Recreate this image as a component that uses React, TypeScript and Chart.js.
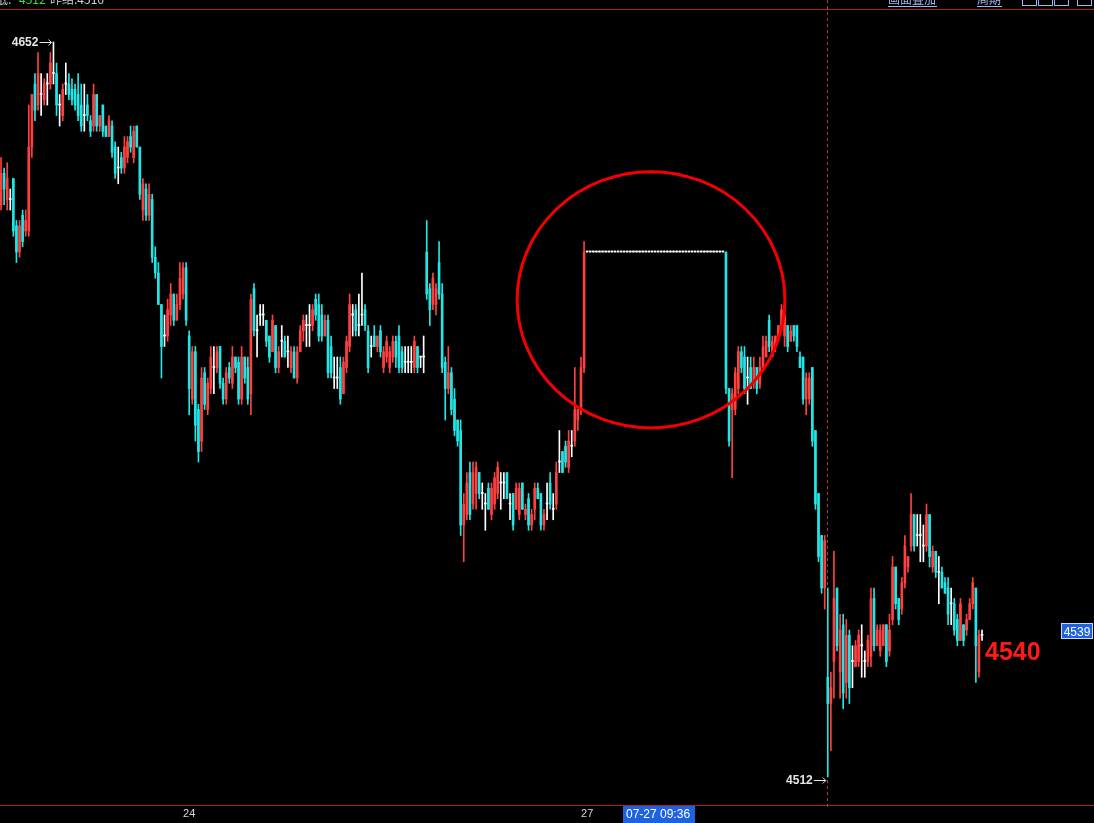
import React, { useEffect, useRef } from 'react';
import { Chart, registerables } from 'chart.js';

Chart.register(...registerables);

// Each candle: [open, high, low, close]
type Candle = [number, number, number, number];

// Session up to the close of the 23rd / early 24th
const candlesA: Candle[] = [
  [4621,4630,4620,4627],[4627,4628,4621,4624],[4622,4629,4620,4626],[4622,4624,4620,4622],
  [4626,4626,4615,4616],[4617,4618,4610,4612],[4612,4618,4611,4617],[4619,4620,4613,4614],
  [4616,4620,4615,4618],[4616,4640,4615,4632],[4632,4642,4630,4642],[4644,4646,4637,4639],
  [4640,4650,4639,4646],[4642,4646,4638,4642],[4641,4645,4640,4644],[4644,4646,4640,4644],
  [4644,4650,4643,4648],[4646,4652,4644,4646],[4646,4648,4638,4640],[4640,4642,4636,4640],
  [4638,4644,4637,4643],[4644,4648,4642,4644],[4644,4646,4641,4642],[4643,4645,4640,4641],
  [4643,4644,4639,4640],[4642,4646,4637,4638],[4640,4644,4635,4636],[4638,4644,4635,4638],
  [4640,4642,4637,4638],[4637,4638,4634,4635],[4636,4644,4635,4642],[4642,4642,4635,4636],
  [4636,4638,4635,4638],[4640,4640,4634,4635],[4636,4636,4634,4634],[4634,4638,4634,4637],
  [4636,4637,4630,4631],[4632,4633,4626,4627],[4628,4632,4625,4628],[4630,4631,4627,4628],
  [4628,4634,4627,4632],[4630,4634,4629,4633],[4634,4636,4631,4632],[4630,4636,4629,4635],
  [4636,4636,4632,4632],[4632,4632,4622,4623],[4620,4626,4618,4625],[4624,4625,4618,4619],
  [4619,4625,4618,4623],[4622,4623,4610,4611],[4611,4613,4607,4608],[4608,4610,4602,4602],
  [4602,4602,4588,4594],[4596,4600,4594,4596],[4596,4603,4595,4601],[4600,4606,4598,4604],
  [4604,4604,4598,4599],[4599,4604,4599,4602],[4602,4610,4601,4607],[4604,4610,4603,4609],
  [4609,4610,4598,4599],
];

// Session of the 24th
const candlesB: Candle[] = [
  [4596,4597,4581,4586],[4584,4594,4583,4593],[4593,4594,4576,4579],[4582,4583,4572,4574],
  [4576,4590,4574,4588],[4589,4590,4582,4583],[4582,4588,4581,4587],[4586,4594,4585,4592],
  [4590,4594,4585,4590],[4590,4594,4589,4593],[4594,4594,4586,4587],[4587,4588,4583,4584],
  [4584,4590,4583,4589],[4590,4591,4587,4588],[4587,4594,4586,4592],[4592,4592,4589,4590],
  [4591,4592,4583,4584],[4584,4594,4583,4592],[4592,4592,4587,4588],[4590,4592,4583,4584],
  [4585,4604,4581,4603],[4605,4606,4596,4597],[4597,4600,4592,4597],[4600,4602,4598,4600],
  [4600,4602,4598,4600],[4599,4599,4594,4595],[4596,4596,4591,4592],[4593,4600,4593,4599],
  [4598,4598,4589,4590],[4590,4594,4589,4593],[4595,4598,4592,4595],[4595,4596,4592,4592],
  [4593,4596,4590,4593],[4590,4594,4589,4593],[4593,4594,4588,4588],[4588,4594,4587,4593],
  [4593,4598,4593,4597],[4597,4600,4595,4599],[4598,4600,4594,4598],[4598,4602,4594,4598],
  [4598,4602,4597,4601],[4603,4604,4599,4600],[4602,4604,4595,4596],[4600,4602,4595,4596],
  [4596,4600,4596,4599],[4599,4600,4588,4589],[4594,4596,4588,4589],[4588,4592,4586,4588],
  [4588,4592,4586,4588],[4590,4592,4583,4584],[4585,4592,4585,4591],[4590,4596,4589,4595],
  [4594,4604,4593,4602],[4600,4602,4596,4600],[4601,4602,4596,4597],[4598,4604,4596,4598],
  [4600,4608,4598,4600],[4601,4602,4597,4598],[4597,4598,4589,4590],[4594,4596,4592,4594],
  [4596,4598,4594,4594],[4594,4596,4593,4596],[4597,4598,4592,4593],[4590,4594,4589,4593],
  [4592,4596,4591,4595],[4590,4594,4589,4593],[4592,4596,4591,4595],[4595,4596,4590,4592],
  [4596,4598,4589,4590],[4593,4594,4589,4590],[4591,4594,4589,4591],[4591,4594,4589,4591],
  [4591,4594,4589,4591],[4590,4596,4589,4595],[4594,4594,4589,4590],[4592,4592,4590,4592],
  [4592,4596,4589,4592],[4612,4618,4603,4604],[4605,4606,4598,4601],[4602,4608,4601,4607],
  [4602,4606,4600,4605],[4610,4614,4603,4604],[4604,4606,4589,4590],[4591,4592,4580,4586],
  [4586,4594,4585,4589],[4589,4590,4581,4582],[4584,4586,4577,4578],[4580,4580,4575,4576],
  [4578,4580,4558,4560],[4560,4566,4553,4564],[4562,4570,4561,4568],[4570,4572,4561,4562],
  [4564,4572,4563,4570],[4566,4572,4563,4571],[4570,4570,4565,4566],[4566,4568,4563,4566],
  [4564,4566,4559,4564],[4567,4568,4563,4563],[4562,4568,4561,4567],[4564,4570,4563,4569],
  [4566,4572,4565,4571],[4568,4570,4563,4568],[4568,4570,4565,4568],[4570,4570,4565,4565],
  [4564,4566,4561,4564],[4566,4566,4559,4560],[4563,4568,4563,4567],[4562,4568,4561,4567],
  [4568,4568,4563,4563],[4562,4564,4561,4563],[4565,4566,4559,4560],[4560,4563,4559,4562],
  [4563,4568,4561,4567],[4567,4568,4565,4565],[4566,4566,4559,4560],[4560,4563,4559,4562],
  [4564,4568,4561,4564],[4568,4570,4563,4564],[4563,4566,4561,4563],[4564,4572,4563,4570],
  [4572,4578,4570,4572],[4574,4574,4570,4570],[4575,4576,4571,4572],[4571,4578,4570,4576],
  [4575,4578,4573,4575],[4576,4590,4575,4582],[4580,4582,4578,4582],[4582,4592,4581,4590],
  [4590,4614,4589,4612],
];

// No-trade stretch at the start of the 27th, price held at 4612
const pauseCandles: Candle[] = [
  [4612,4612,4612,4612],[4612,4612,4612,4612],[4612,4612,4612,4612],[4612,4612,4612,4612],[4612,4612,4612,4612],
  [4612,4612,4612,4612],[4612,4612,4612,4612],[4612,4612,4612,4612],[4612,4612,4612,4612],[4612,4612,4612,4612],
  [4612,4612,4612,4612],[4612,4612,4612,4612],[4612,4612,4612,4612],[4612,4612,4612,4612],[4612,4612,4612,4612],
  [4612,4612,4612,4612],[4612,4612,4612,4612],[4612,4612,4612,4612],[4612,4612,4612,4612],[4612,4612,4612,4612],
  [4612,4612,4612,4612],[4612,4612,4612,4612],[4612,4612,4612,4612],[4612,4612,4612,4612],[4612,4612,4612,4612],
  [4612,4612,4612,4612],[4612,4612,4612,4612],[4612,4612,4612,4612],[4612,4612,4612,4612],[4612,4612,4612,4612],
  [4612,4612,4612,4612],[4612,4612,4612,4612],[4612,4612,4612,4612],[4612,4612,4612,4612],[4612,4612,4612,4612],
  [4612,4612,4612,4612],[4612,4612,4612,4612],[4612,4612,4612,4612],[4612,4612,4612,4612],[4612,4612,4612,4612],
  [4612,4612,4612,4612],[4612,4612,4612,4612],[4612,4612,4612,4612],[4612,4612,4612,4612],[4612,4612,4612,4612],
];

// Session of the 27th
const candlesC: Candle[] = [
  [4612,4612,4585,4586],[4586,4586,4575,4576],[4582,4586,4569,4585],[4582,4590,4581,4589],
  [4586,4594,4585,4593],[4593,4594,4589,4590],[4592,4594,4585,4586],[4588,4592,4583,4588],
  [4590,4592,4586,4586],[4587,4592,4586,4590],[4590,4590,4585,4586],[4587,4592,4586,4590],
  [4590,4596,4590,4594],[4592,4596,4592,4595],[4599,4600,4593,4594],[4592,4596,4592,4595],
  [4594,4596,4593,4596],[4596,4598,4595,4598],[4598,4602,4597,4601],[4596,4602,4594,4600],
  [4598,4598,4593,4594],[4595,4598,4595,4597],[4598,4598,4595,4596],[4598,4598,4593,4594],
  [4592,4593,4590,4590],[4592,4592,4583,4584],[4584,4589,4581,4588],[4584,4589,4583,4588],
  [4590,4590,4575,4576],[4578,4578,4563,4564],[4566,4566,4553,4554],[4558,4558,4547,4548],
  [4548,4558,4544,4557],[4531,4548,4512,4526],[4526,4532,4517,4529],[4534,4555,4527,4546],
  [4548,4548,4536,4537],[4532,4543,4527,4540],[4541,4543,4525,4528],[4530,4542,4527,4539],
  [4539,4540,4526,4529],[4534,4537,4529,4534],[4533,4538,4533,4537],[4534,4540,4533,4539],
  [4537,4541,4531,4537],[4534,4536,4531,4534],[4534,4539,4533,4538],[4535,4548,4533,4546],
  [4546,4548,4536,4537],[4537,4541,4537,4540],[4536,4541,4535,4540],[4537,4541,4537,4541],
  [4541,4541,4533,4534],[4536,4543,4535,4540],[4542,4554,4541,4552],[4552,4552,4544,4545],
  [4546,4546,4541,4542],[4544,4550,4543,4549],[4549,4558,4548,4556],[4552,4554,4551,4554],
  [4556,4566,4555,4562],[4562,4562,4555,4556],[4558,4562,4556,4558],[4558,4562,4553,4558],
  [4556,4560,4553,4556],[4556,4564,4555,4562],[4562,4562,4552,4554],[4552,4556,4551,4555],
  [4555,4555,4550,4551],[4551,4554,4545,4551],[4551,4552,4548,4548],[4549,4550,4547,4547],
  [4548,4550,4541,4543],[4545,4548,4541,4545],[4545,4546,4539,4540],[4542,4543,4537,4538],
  [4538,4546,4538,4545],[4541,4541,4537,4538],[4540,4543,4539,4542],[4542,4546,4542,4545],
  [4545,4550,4544,4549],[4548,4548,4530,4537],[4532,4540,4531,4539],[4539,4540,4538,4539],
];

const dateTicks = [
  { index: 61, label: '24' },
  { index: 190, label: '27' },
];
const crosshairIndex = 268;
const crosshairTime = '07-27 09:36';
const lastPrice = 4539;
const notePrice = 4540;
const headerLow = '4512';
const headerPrevSettle = '4516';
const circleNote = { index: 210.7, price: 4602.9, rIndex: 43.4, rPrice: 24.4 };
const priceMin = 4506.67;
const priceMax = 4658.29;
const slotMin = -0.33;
const slotMax = 354.3;

const UP = '#ff4040';
const DOWN = '#22e6e6';
const FLAT = '#ffffff';

const candles: Candle[] = [...candlesA, ...candlesB, ...pauseCandles, ...candlesC];

function colorOf(c: Candle) {
  if (c[3] > c[0]) return UP;
  if (c[3] < c[0]) return DOWN;
  return FLAT;
}

const W = 1094;
const H = 823;

const chromePlugin = {
  id: 'chrome',
  beforeDatasetsDraw(chart: any) {
    const { ctx, scales } = chart;
    const x = scales.x;
    ctx.save();
    // frame lines
    ctx.fillStyle = '#b41e1e';
    ctx.fillRect(0, 9, W, 1);
    ctx.fillRect(0, 805, W, 1);
    // crosshair (dashed)
    const cx = Math.round(x.getPixelForValue(crosshairIndex)) - 1;
    ctx.fillStyle = '#c83232';
    for (let yy = 0; yy < 805; yy += 6) {
      ctx.fillRect(cx, yy, 1, 3);
    }
    ctx.restore();
  },
  afterDatasetsDraw(chart: any) {
    const { ctx, scales } = chart;
    const x = scales.x;
    const y = scales.y;
    ctx.save();

    // red circle note
    ctx.strokeStyle = '#f40000';
    ctx.lineWidth = 3;
    const ccx = x.getPixelForValue(circleNote.index);
    const ccy = y.getPixelForValue(circleNote.price);
    const rx = x.getPixelForValue(circleNote.index + circleNote.rIndex) - ccx;
    const ry = y.getPixelForValue(circleNote.price - circleNote.rPrice) - ccy;
    ctx.beginPath();
    ctx.ellipse(ccx, ccy, rx, ry, 0, 0, Math.PI * 2);
    ctx.stroke();

    // max / min arrows
    let hiIdx = 0, loIdx = 0;
    candles.forEach((c, i) => {
      if (c[1] > candles[hiIdx][1]) hiIdx = i;
      if (c[2] < candles[loIdx][2]) loIdx = i;
    });
    const drawArrowLabel = (idx: number, price: number, dy: number) => {
      const px = x.getPixelForValue(idx);
      const py = Math.round(y.getPixelForValue(price) + dy) + 0.5;
      ctx.fillStyle = '#e6e6e6';
      ctx.strokeStyle = '#e6e6e6';
      ctx.lineWidth = 1;
      ctx.font = 'bold 12px "Liberation Sans", Arial, sans-serif';
      ctx.textAlign = 'right';
      ctx.textBaseline = 'middle';
      ctx.fillText(String(price), px - 15, py + 0.5);
      ctx.beginPath();
      ctx.moveTo(px - 14, py); ctx.lineTo(px - 2, py);
      ctx.moveTo(px - 5, py - 3); ctx.lineTo(px - 2, py); ctx.lineTo(px - 5, py + 3);
      ctx.stroke();
    };
    drawArrowLabel(hiIdx, candles[hiIdx][1], 0);
    drawArrowLabel(loIdx, candles[loIdx][2], 3);

    // last price tag at right edge
    const ly = y.getPixelForValue(lastPrice) - 4;
    ctx.fillStyle = '#1e62e0';
    ctx.fillRect(1061, Math.round(ly - 8), 32, 16);
    ctx.strokeStyle = '#c8d8ff';
    ctx.lineWidth = 1;
    ctx.strokeRect(1061.5, Math.round(ly - 8) + 0.5, 31, 15);
    ctx.fillStyle = '#ffffff';
    ctx.font = '12px "Liberation Sans", Arial, sans-serif';
    ctx.textAlign = 'center';
    ctx.textBaseline = 'middle';
    ctx.fillText(String(lastPrice), 1077, ly + 1);

    // big red note
    const lastX = x.getPixelForValue(candles.length - 1);
    ctx.fillStyle = '#ff1a1a';
    ctx.font = 'bold 25px "Liberation Sans", Arial, sans-serif';
    ctx.textAlign = 'left';
    ctx.textBaseline = 'alphabetic';
    ctx.fillText(String(notePrice), lastX + 3, y.getPixelForValue(notePrice) + 30);

    // date ticks
    ctx.fillStyle = '#d8d8d8';
    ctx.font = '11px "Liberation Sans", Arial, sans-serif';
    ctx.textAlign = 'center';
    ctx.textBaseline = 'middle';
    dateTicks.forEach((t) => {
      ctx.fillText(t.label, x.getPixelForValue(t.index), 814);
    });

    // crosshair time box
    ctx.fillStyle = '#1e62e0';
    ctx.fillRect(623, 806, 72, 17);
    ctx.fillStyle = '#ffffff';
    ctx.font = '12px "Liberation Sans", Arial, sans-serif';
    ctx.textAlign = 'left';
    ctx.fillText(crosshairTime, 626, 815);

    // header (cut off at top)
    ctx.textBaseline = 'alphabetic';
    ctx.font = '12px "Noto Sans CJK SC", sans-serif';
    ctx.fillStyle = '#d0d0d0';
    ctx.fillText('低:', -4, 4);
    ctx.fillStyle = '#3cdc3c';
    ctx.fillText(headerLow, 19, 4);
    ctx.fillStyle = '#d0d0d0';
    ctx.fillText('昨结:' + headerPrevSettle, 50, 4);

    ctx.fillStyle = '#9fb8f0';
    ctx.strokeStyle = '#9fb8f0';
    ctx.fillText('画面叠加', 888, 4);
    ctx.fillText('周期', 977, 4);
    ctx.beginPath();
    ctx.moveTo(888, 6.5); ctx.lineTo(937, 6.5);
    ctx.moveTo(977, 6.5); ctx.lineTo(1002, 6.5);
    ctx.stroke();
    [1022, 1038, 1054, 1077].forEach((bx) => {
      ctx.strokeRect(bx + 0.5, -6.5, 14, 12);
    });

    ctx.restore();
  },
};

export default function App() {
  const ref = useRef<HTMLCanvasElement>(null);

  useEffect(() => {
    if (!ref.current) return;
    const colors = candles.map(colorOf);
    const chart = new Chart(ref.current, {
      type: 'bar',
      data: {
        datasets: [
          {
            label: 'wick',
            data: candles.map((c, i) => ({ x: i, y: [c[2], c[1]] })) as any,
            backgroundColor: colors,
            barThickness: 1,
            minBarLength: 1,
            grouped: false,
            borderWidth: 0,
            order: 2,
          } as any,
          {
            label: 'body',
            data: candles.map((c, i) => ({ x: i, y: [c[0], c[3]] })) as any,
            backgroundColor: colors,
            barThickness: 2,
            minBarLength: 1,
            grouped: false,
            borderWidth: 0,
            order: 1,
          } as any,
        ],
      },
      options: {
        responsive: false,
        maintainAspectRatio: false,
        animation: false,
        events: [],
        layout: { padding: { top: 9, bottom: 18, left: 0, right: 0 } },
        plugins: {
          legend: { display: false },
          tooltip: { enabled: false },
        },
        scales: {
          x: {
            type: 'linear',
            min: slotMin,
            max: slotMax,
            offset: false,
            display: false,
            grid: { display: false },
          },
          y: {
            min: priceMin,
            max: priceMax,
            display: false,
            grid: { display: false },
          },
        },
      },
      plugins: [chromePlugin],
    });
    return () => chart.destroy();
  }, []);

  return (
    <div
      style={{
        position: 'absolute',
        left: 0,
        top: 0,
        width: W,
        height: H,
        background: '#000',
        overflow: 'hidden',
      }}
    >
      <canvas ref={ref} width={W} height={H} style={{ display: 'block' }} />
    </div>
  );
}
